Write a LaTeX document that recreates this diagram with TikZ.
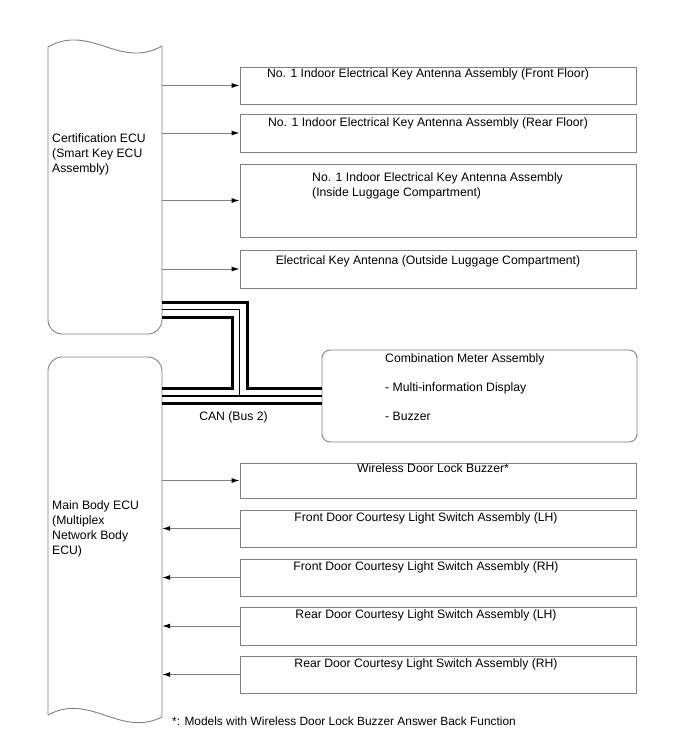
\documentclass[tikz,border=0pt]{standalone}
\usepackage{fontspec}
\setmainfont{Liberation Sans}
\usetikzlibrary{arrows.meta}
\definecolor{lgray}{RGB}{128,128,128}
\begin{document}
\begin{tikzpicture}[x=1pt,y=-1pt,
  every node/.style={font=\fontsize{12.2}{15}\selectfont, inner sep=0pt},
  boxr/.style={draw=lgray, line width=0.9pt, minimum width=396pt},
  ecu/.style={draw=none, minimum width=114pt},
  eculine/.style={draw=lgray, line width=0.9pt},
  arr/.style={draw=lgray, line width=0.9pt, -{Latex[length=8pt,width=5pt,black]}},
  busthick/.style={draw=black, line width=3pt},
  busthin/.style={draw=black, line width=1.2pt},
  lbl/.style={anchor=mid}
]
\useasboundingbox (0,0) rectangle (688,755);

% ECU anchor nodes
\node[ecu, minimum height=294pt] (cert) at (105,187) {};
\node[ecu, minimum height=365pt] (main) at (105,539.5) {};

% ECU outlines
\draw[eculine, rounded corners=14pt] (162,46) -- (162,334) -- (48,334) -- (48,47);
\draw[eculine] (48,47) .. controls (90,23) and (120,70) .. (162,46);
\draw[eculine, rounded corners=14pt] (48,715) -- (48,357) -- (162,357) -- (162,717);
\draw[eculine] (48,715) .. controls (90,692) and (120,738) .. (162,717);

\node[anchor=north west, align=left] (certtxt) at (52,133.5) {Certification ECU\\(Smart Key ECU\\Assembly)};
\node[anchor=north west, align=left] (maintxt) at (52,500.5) {Main Body ECU\\(Multiplex\\Network Body\\ECU)};

% right boxes
\node[boxr, minimum height=37pt] (b1) at (438,85.5) {};
\node[boxr, minimum height=38pt] (b2) at (438,133) {};
\node[boxr, minimum height=73pt] (b3) at (438,200.5) {};
\node[boxr, minimum height=38pt] (b4) at (438,269) {};
\node[draw=lgray, line width=0.9pt, rounded corners=8pt, minimum width=315pt, minimum height=92pt] (meter) at (479.5,396) {};
\node[boxr, minimum height=35pt] (w) at (438,480.5) {};
\node[boxr, minimum height=37pt] (flh) at (438,528.5) {};
\node[boxr, minimum height=37pt] (frh) at (438,577.5) {};
\node[boxr, minimum height=38pt] (rlh) at (438,626) {};
\node[boxr, minimum height=37pt] (rrh) at (438,674.5) {};

% labels
\node[lbl] (t1) at (428,75) {No. 1 Indoor Electrical Key Antenna Assembly (Front Floor)};
\node[lbl] (t2) at (428,124) {No. 1 Indoor Electrical Key Antenna Assembly (Rear Floor)};
\node[anchor=north west, align=left] (t3) at (312,172.5) {No. 1 Indoor Electrical Key Antenna Assembly\\(Inside Luggage Compartment)};
\node[lbl] (t4) at (428,262) {Electrical Key Antenna (Outside Luggage Compartment)};
\node[anchor=mid west] (m1) at (385,360) {Combination Meter Assembly};
\node[anchor=mid west] (m2) at (385,389) {- Multi-information Display};
\node[anchor=mid west] (m3) at (385,418) {- Buzzer};
\node[lbl] (tw) at (433,470) {Wireless Door Lock Buzzer*};
\node[lbl] (tflh) at (426,519) {Front Door Courtesy Light Switch Assembly (LH)};
\node[lbl] (tfrh) at (426,568) {Front Door Courtesy Light Switch Assembly (RH)};
\node[lbl] (trlh) at (426,616) {Rear Door Courtesy Light Switch Assembly (LH)};
\node[lbl] (trrh) at (426,665) {Rear Door Courtesy Light Switch Assembly (RH)};
\node[lbl] (can) at (233.5,418) {CAN (Bus 2)};
\node[anchor=mid west, font=\fontsize{11.9}{15}\selectfont] (foot) at (172,723) {*: Models with Wireless Door Lock Buzzer Answer Back Function};

% arrows
\draw[arr] (cert.east |- b1.west) -- (b1.west);
\draw[arr] (cert.east |- b2.west) -- (b2.west);
\draw[arr] (cert.east |- b3.west) -- (b3.west);
\draw[arr] (cert.east |- b4.west) -- (b4.west);
\draw[arr] (main.east |- w.west) -- (w.west);
\draw[arr] (flh.west) -- (main.east |- flh.west);
\draw[arr] (frh.west) -- (main.east |- frh.west);
\draw[arr] (rlh.west) -- (main.east |- rlh.west);
\draw[arr] (rrh.west) -- (main.east |- rrh.west);

% CAN bus
\draw[busthick] (cert.east |- 0,302) -| (247,388) -- (meter.west |- 0,388);
\draw[busthin] (cert.east |- 0,309.5) -| (239.5,396);
\draw[busthick] (cert.east |- 0,317) -| (232,388) -- (main.east |- 0,388);
\draw[busthin] (main.east |- 0,396) -- (meter.west |- 0,396);
\draw[busthick] (main.east |- 0,403) -- (meter.west |- 0,403);
\end{tikzpicture}
\end{document}
